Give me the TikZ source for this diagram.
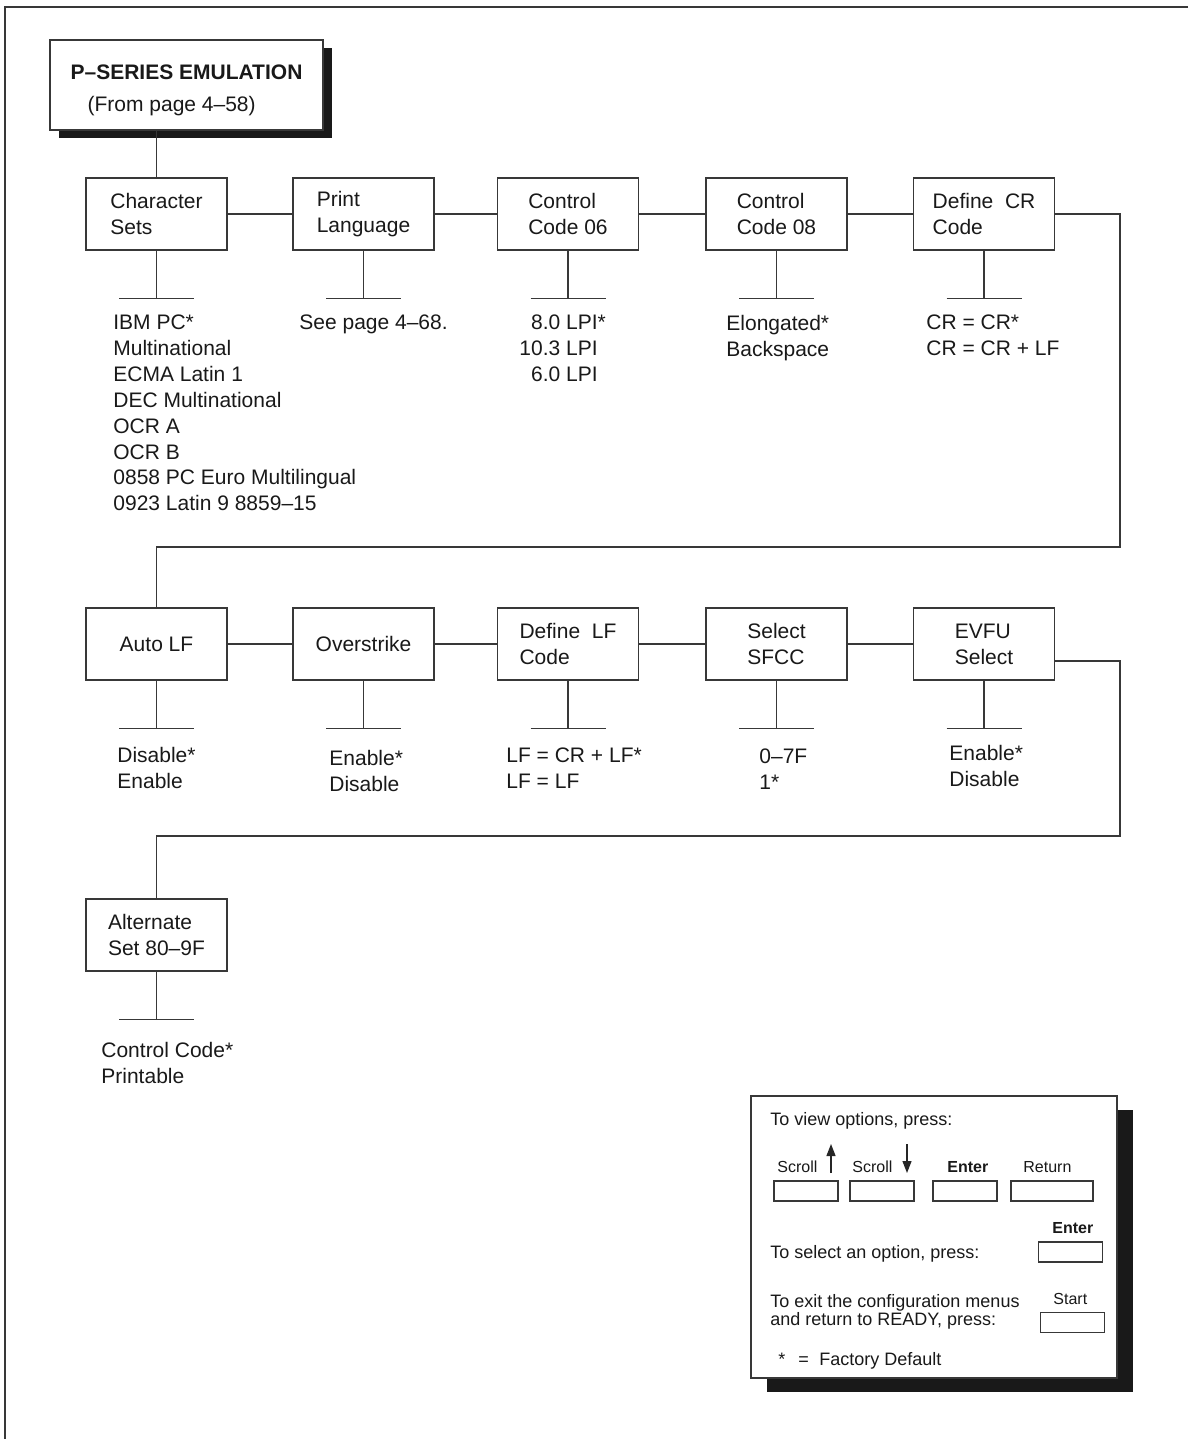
\documentclass[tikz,border=0pt]{standalone}
\usepackage{fontspec}
\setmainfont{Liberation Sans}
\usetikzlibrary{arrows.meta,shadows,calc,positioning}

\begin{document}
\begin{tikzpicture}[x=0.5pt, y=-0.5pt, font=\fontsize{10.5}{12.95}\selectfont,
    text=black!90,
    line/.style={draw=black!78, line width=0.7pt},
    menubox/.style={line, fill=white, minimum width=70.5pt, minimum height=36pt,
                    align=left, inner sep=2pt},
    opts/.style={anchor=north west, inner sep=0pt, align=left},
    keybox/.style={line, fill=white, minimum width=32pt, minimum height=10pt, inner sep=0pt},
    keylbl/.style={font=\fontsize{8}{9.6}\selectfont, anchor=base west, inner sep=0pt},
    legtxt/.style={font=\fontsize{9}{9.2}\selectfont, anchor=base west, inner sep=0pt},
    keyarrow/.style={draw=black!85, line width=0.6pt, -{Triangle[width=4.5pt,length=6pt]}}]

  \useasboundingbox (0,0) rectangle (1188,1439);

  %% Page frame
  \draw[line, line width=1pt] (1188,7) -- (5,7) -- (5,1439);

  %% Header
  \node[menubox, minimum width=136.5pt, minimum height=45pt,
        drop shadow={shadow xshift=4.5pt, shadow yshift=-4pt, fill=black!90, opacity=1}]
    (hdr) at (186.5,85)
    {\rule{0pt}{13pt}\textbf{P–SERIES EMULATION}\\[3pt]\hspace*{8.5pt}(From page 4–58)};

  %% First row
  \node[menubox] (cs)  at (156.5,214) {Character\\Sets};
  \node[menubox] (pl)  at (363.5,214) {Print\\Language};
  \node[menubox] (c6)  at (568,214)   {Control\\Code 06};
  \node[menubox] (c8)  at (776.5,214) {Control\\Code 08};
  \node[menubox] (dcr) at (984,214)   {Define\ \ CR\\Code};

  %% Second row
  \node[menubox] (alf) at (156.5,644) {Auto LF};
  \node[menubox] (ovs) at (363.5,644) {Overstrike};
  \node[menubox] (dlf) at (568,644)   {Define\ \ LF\\Code};
  \node[menubox] (sfc) at (776.5,644) {Select\\SFCC};
  \node[menubox] (evf) at (984,644)   {EVFU\\Select};

  %% Third row
  \node[menubox] (alt) at (156.5,935) {Alternate\\Set 80–9F};

  %% Connectors
  \draw[line] (cs.north) -- (cs.north |- hdr.south);
  \foreach \a/\b in {cs/pl,pl/c6,c6/c8,c8/dcr,alf/ovs,ovs/dlf,dlf/sfc,sfc/evf}
    \draw[line] (\a.east) -- (\b.west);
  \coordinate (turn1) at (1120,547);
  \coordinate (turn2) at (1120,836);
  \draw[line] (dcr.east) -| (turn1) -| (alf.north);
  \draw[line] ($(evf.east)+(0,17)$) -| (turn2) -| (alt.north);

  %% Stems and bars
  \foreach \n in {cs,pl,c6,c8,dcr,alf,ovs,dlf,sfc,evf,alt}
    \draw[line] (\n.south) -- ++(0,48) ++(-37.5,0) -- ++(75,0);

  %% Options
  \node[opts] (cs-o)  at (113,314.5)
    {IBM PC*\\Multinational\\ECMA Latin 1\\DEC Multinational\\OCR A\\OCR B\\%
     0858 PC Euro Multilingual\\0923 Latin 9 8859–15};
  \node[opts] (pl-o)  at (299,314.5) {See page 4–68.};
  \node[opts] (c6-o)  at (519,314.5) {\phantom{1}8.0 LPI*\\10.3 LPI\\\phantom{1}6.0 LPI};
  \node[opts] (c8-o)  at (726,314.5) {Elongated*\\Backspace};
  \node[opts] (dcr-o) at (926,314.5) {CR = CR*\\CR = CR + LF};
  \node[opts] (alf-o) at (117,746.5) {Disable*\\Enable};
  \node[opts] (ovs-o) at (329,749.5) {Enable*\\Disable};
  \node[opts] (dlf-o) at (506,747.5) {LF = CR + LF*\\LF = LF};
  \node[opts] (sfc-o) at (759,748.5) {0–7F\\1*};
  \node[opts] (evf-o) at (949,744.5) {Enable*\\Disable};
  \node[opts] (alt-o) at (101,1041.5) {Control Code*\\Printable};

  %% Key legend
  \node[line, fill=white, minimum width=183pt, minimum height=141pt,
        drop shadow={shadow xshift=8pt, shadow yshift=-7pt, fill=black!90, opacity=1}]
    (leg) at (934,1237) {};
  \node[legtxt] (view) at (770,1125) {To view options, press:};
  \node[keylbl] (l-up)  at (777,1172)  {Scroll};
  \node[keylbl] (l-dn)  at (852,1172)  {Scroll};
  \node[keylbl] (l-ent) at (947,1172)  {\textbf{Enter}};
  \node[keylbl] (l-ret) at (1023,1172) {Return};
  \draw[keyarrow] (831,1173) -- (831,1144);
  \draw[keyarrow] (907,1144) -- (907,1173);
  \node[keybox] (k-up)  at (806,1191)  {};
  \node[keybox] (k-dn)  at (882,1191)  {};
  \node[keybox] (k-ent) at (965,1191)  {};
  \node[keybox, minimum width=41pt] (k-ret) at (1052,1191) {};
  \node[keylbl] (l-sel) at (1052,1233) {\textbf{Enter}};
  \node[keybox] (k-sel) at (1070.5,1252) {};
  \node[legtxt] (sel) at (770,1258) {To select an option, press:};
  \node[legtxt] (ex1) at (770,1307) {To exit the configuration menus};
  \node[legtxt] (ex2) at (770,1325) {and return to READY, press:};
  \node[keylbl] (l-st) at (1053,1304) {Start};
  \node[keybox] (k-st) at (1072.5,1322.5) {};
  \node[legtxt] (dflt) at (778,1365) {*\hspace{6.5pt}=\hspace{5.25pt}Factory Default};
\end{tikzpicture}
\end{document}
